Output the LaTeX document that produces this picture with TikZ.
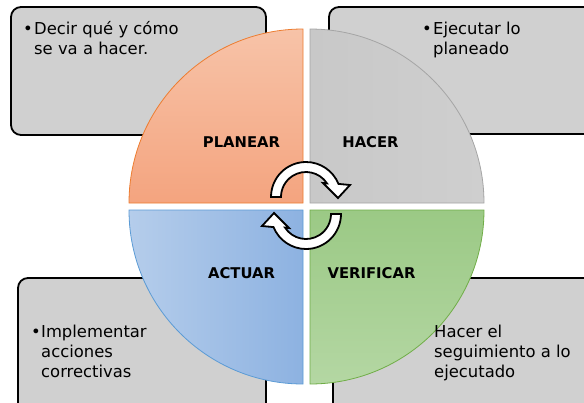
\documentclass[tikz,border=0pt]{standalone}
\usepackage{fontspec}
\setmainfont{DejaVu Sans}
\definecolor{boxgray}{HTML}{D0D0D0}
\definecolor{orTop}{HTML}{F7C3A8}
\definecolor{orBot}{HTML}{F4A47F}
\definecolor{orLine}{HTML}{ED7D31}
\definecolor{gyL}{HTML}{C8C8C8}
\definecolor{gyR}{HTML}{CFCFCF}
\definecolor{gyLine}{HTML}{A5A5A5}
\definecolor{blL}{HTML}{B5CDEB}
\definecolor{blR}{HTML}{8DB2E1}
\definecolor{blLine}{HTML}{5B9BD5}
\definecolor{gnTop}{HTML}{9BC985}
\definecolor{gnBot}{HTML}{B4D7A3}
\definecolor{gnLine}{HTML}{70AD47}
\begin{document}
\begin{tikzpicture}[x=1pt,y=-1pt,
  infobox/.style={draw=black,line width=1.8pt,fill=boxgray,rounded corners=10pt},
  quad/.style={line width=0.8pt},
  lbl/.style={font=\fontsize{14.8}{17}\selectfont\bfseries,inner sep=0pt},
  txt/.style={font=\fontsize{16.4}{20}\selectfont,inner sep=0pt,anchor=north west,align=left},
  cyc/.style={draw=black,fill=white,line width=1.8pt,line join=miter}]
\useasboundingbox (0,0) rectangle (584,402);
\clip (0,0) rectangle (584,402);
\fill[white] (0,0) rectangle (584,402);
% boxes
\draw[infobox] (11,7) rectangle (266,135);
\draw[infobox] (329,7) rectangle (610,134);
\draw[infobox] (18,278) rectangle (266,420);
\draw[infobox] (333,278) rectangle (610,420);
% quadrants
\draw[quad,draw=orLine,top color=orTop,bottom color=orBot] (303,203) -- (129,203) arc[start angle=180,end angle=270,radius=174] -- cycle;
\draw[quad,draw=gyLine,left color=gyL,right color=gyR] (310,203) -- (310,29) arc[start angle=270,end angle=360,radius=174] -- cycle;
\draw[quad,draw=blLine,left color=blL,right color=blR] (303,210) -- (303,384) arc[start angle=90,end angle=180,radius=174] -- cycle;
\draw[quad,draw=gnLine,top color=gnTop,bottom color=gnBot] (310,210) -- (484,210) arc[start angle=0,end angle=90,radius=174] -- cycle;
% labels
\node[lbl] (planear) at (241.5,142) {PLANEAR};
\node[lbl] (hacer) at (370.5,142) {HACER};
\node[lbl] (actuar) at (241.5,273) {ACTUAR};
\node[lbl] (verificar) at (371.5,273) {VERIFICAR};
% texts
\node[txt] (t1) at (23,20) {\strut\makebox[11pt][l]{•}Decir qué y cómo\\\hspace*{11pt}se va a hacer.};
\node[txt] (t2) at (422,20) {\strut\makebox[11pt][l]{•}Ejecutar lo\\\hspace*{11pt}planeado};
\node[txt] (t3) at (31,323) {\strut\makebox[10pt][l]{•}Implementar\\\hspace*{10pt}acciones\\\hspace*{10pt}correctivas};
\node[txt] (t4) at (434,323) {\strut Hacer el\\seguimiento a lo\\ejecutado};
% cycle arrows
\def\cycpath{(180:35) arc[start angle=180,end angle=338,radius=35] -- (44,-12) -- (32,1) -- (17,-14) -- (327:25) arc[start angle=327,end angle=180,radius=25] -- cycle}
\begin{scope}[shift={(306,197)}]
\draw[cyc] \cycpath;
\end{scope}
\begin{scope}[shift={(306,214)},rotate=180]
\draw[cyc] \cycpath;
\end{scope}
\end{tikzpicture}
\end{document}
